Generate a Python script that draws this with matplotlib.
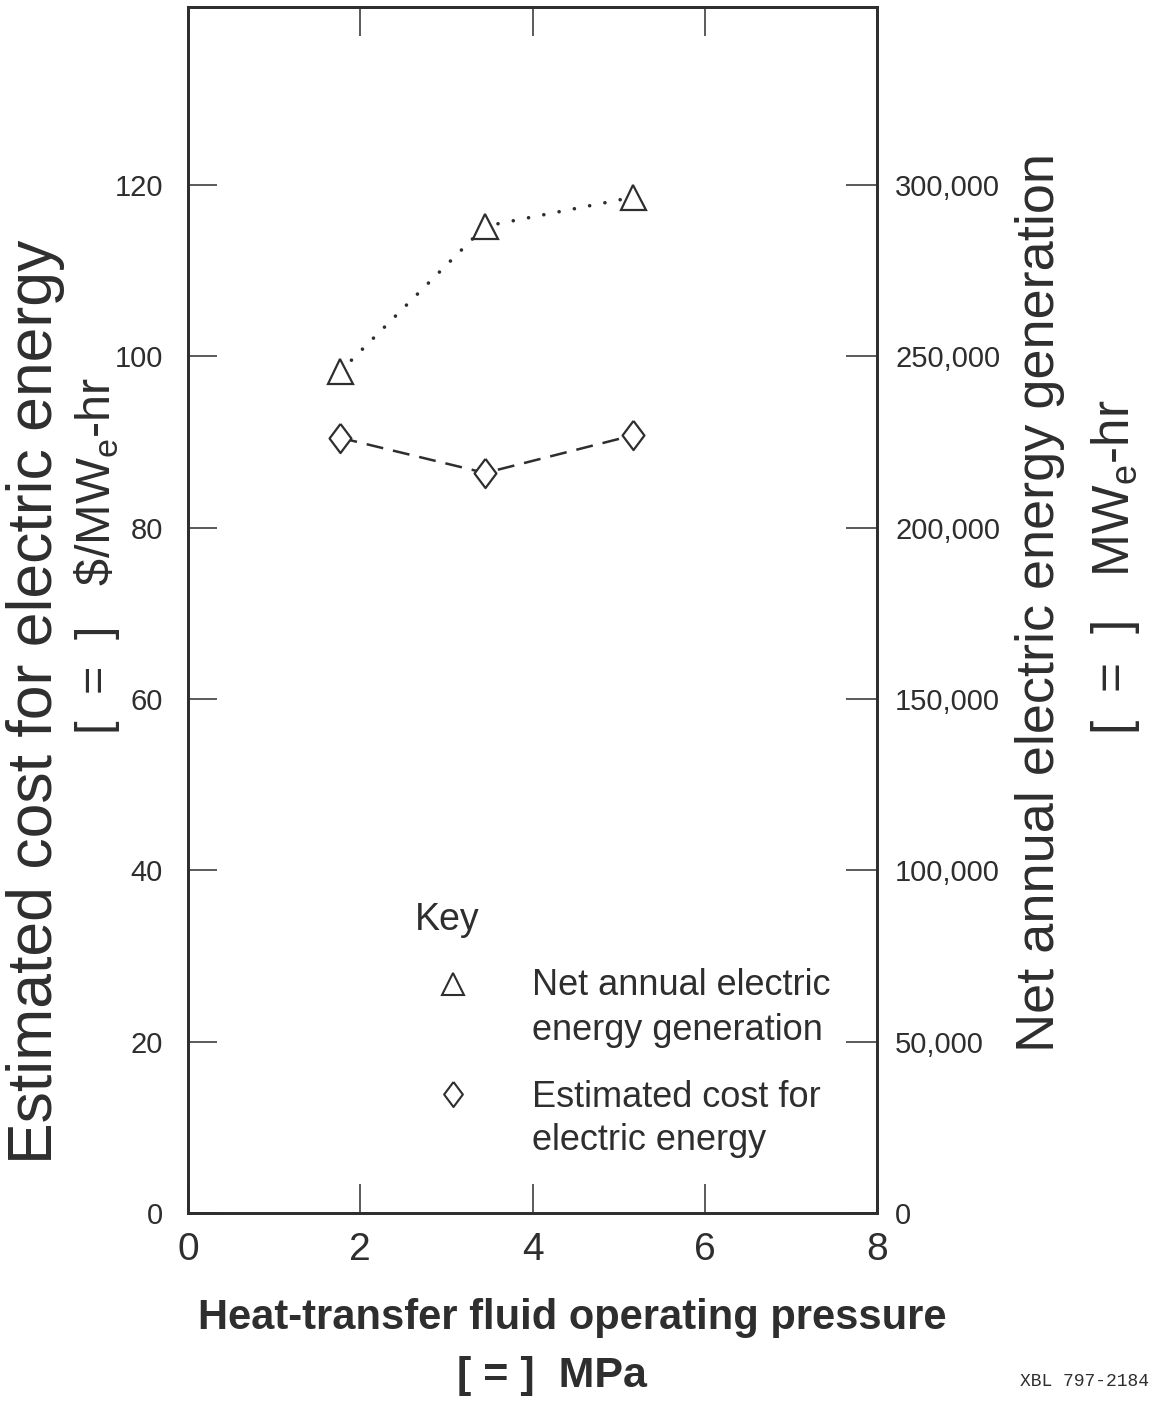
import matplotlib
matplotlib.use("Agg")
import matplotlib.pyplot as plt
from matplotlib.ticker import FuncFormatter

# dados
pressao = [1.77, 3.45, 5.17]                 # MPa
geracao = [245700, 288000, 296500]           # MWe-hr (eixo direito)
custo = [90.5, 86.4, 90.8]                   # $/MWe-hr (eixo esquerdo)

custo_ticks = [0, 20, 40, 60, 80, 100, 120]
geracao_ticks = [0, 50000, 100000, 150000, 200000, 250000, 300000]
pressao_ticks = [0, 2, 4, 6, 8]

cor = "#2e2e2e"
plt.rcParams["font.family"] = ["Liberation Sans", "DejaVu Sans"]
plt.rcParams["mathtext.fontset"] = "custom"
plt.rcParams["mathtext.rm"] = "Liberation Sans"
plt.rcParams["text.color"] = cor

W, H = 1158, 1407
fig = plt.figure(figsize=(W / 100, H / 100), dpi=100)
ax = fig.add_axes([188 / W, 1 - 1213 / H, (877 - 188) / W, (1213 - 7) / H])
ax2 = ax.twinx()

ymax = 140.8
ax.set_xlim(0, 8)
ax.set_ylim(0, ymax)
ax2.set_ylim(0, ymax * 2500)

# diamante mais alto que largo
losango = [(0, 1), (0.75, 0), (0, -1), (-0.75, 0), (0, 1)]

ax.plot(pressao, custo, color=cor, lw=1.8, linestyle=(0, (6.8, 4)),
        marker=losango, ms=21, mfc="white", mec=cor, mew=1.6, zorder=3)
ax2.plot(pressao, geracao, color=cor, lw=2.6, linestyle=(0, (0.01, 4.3)),
         dash_capstyle="round", marker="^", ms=18, mfc="white", mec=cor,
         mew=1.6, zorder=3)

for a in (ax, ax2):
    for s in a.spines.values():
        s.set_linewidth(2.0)
        s.set_color(cor)

ax.set_xticks(pressao_ticks)
ax.set_yticks(custo_ticks)
ax2.set_yticks(geracao_ticks)
ax.tick_params(axis="both", direction="in", length=21, width=1.1, color=cor,
               labelcolor=cor, top=True, right=False, labelsize=28)
ax.tick_params(axis="x", pad=14)
ax.tick_params(axis="y", pad=18, labelsize=21)
ax2.tick_params(axis="y", direction="in", length=22, width=1.1, color=cor,
                labelcolor=cor, pad=13, labelsize=21)
ax2.yaxis.set_major_formatter(FuncFormatter(lambda v, p: f"{int(v):,}"))

# legenda desenhada a mao
ax.text(0.329, 0.243, "Key", transform=ax.transAxes, fontsize=27,
        va="center", ha="left")
ax.plot([0.385], [0.190], transform=ax.transAxes, marker="^", ms=16,
        mfc="white", mec=cor, mew=1.5, ls="none", clip_on=False)
ax.plot([0.385], [0.099], transform=ax.transAxes, marker=losango, ms=18,
        mfc="white", mec=cor, mew=1.5, ls="none", clip_on=False)
ax.text(0.500, 0.181, "Net annual electric", transform=ax.transAxes,
        fontsize=26, va="baseline")
ax.text(0.500, 0.1435, "energy generation", transform=ax.transAxes,
        fontsize=26, va="baseline")
ax.text(0.500, 0.0879, "Estimated cost for", transform=ax.transAxes,
        fontsize=26, va="baseline")
ax.text(0.500, 0.0522, "electric energy", transform=ax.transAxes,
        fontsize=26, va="baseline")

# rotulos dos eixos
fig.text(36 / W, 1 - 702 / H, "Estimated cost for electric energy",
         rotation=90, ha="center", va="center", fontsize=45)
fig.text(97 / W, 1 - 556 / H, r"[  =  ]   \$/MW$_\mathregular{e}$-hr",
         rotation=90, ha="center", va="center", fontsize=35)
fig.text(1040 / W, 1 - 603 / H, "Net annual electric energy generation",
         rotation=90, ha="center", va="center", fontsize=39)
fig.text(1115 / W, 1 - 567 / H, r"[  =  ]   MW$_\mathregular{e}$-hr",
         rotation=90, ha="center", va="center", fontsize=37)
fig.text(572 / W, 1 - 1318 / H, "Heat-transfer fluid operating pressure",
         ha="center", va="center", fontsize=30, fontweight="bold")
fig.text(552 / W, 1 - 1376 / H, "[ = ]  MPa",
         ha="center", va="center", fontsize=31, fontweight="bold")
fig.text(1085 / W, 1 - 1381 / H, "XBL 797-2184", ha="center", va="center",
         fontsize=13, family=["Liberation Mono", "DejaVu Sans Mono"])

fig.savefig("out.png", dpi=100)
